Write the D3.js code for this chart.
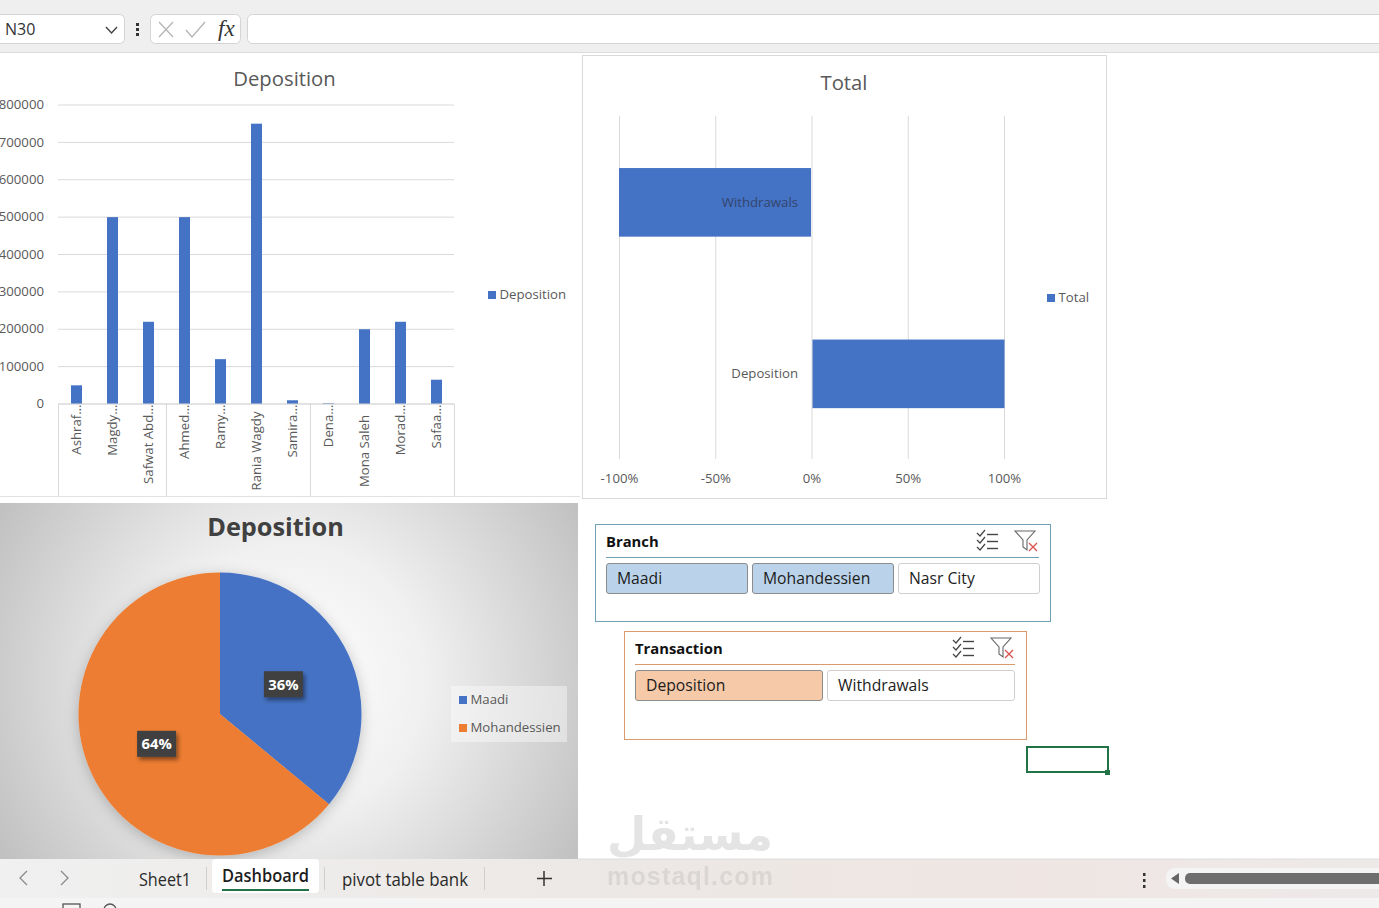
<!DOCTYPE html>
<html>
<head>
<meta charset="utf-8">
<script src="https://cdn.jsdelivr.net/npm/d3@7"></script>
<style>
html,body{margin:0;padding:0;background:#fff;overflow:hidden}
svg{display:block}
text{font-family:"Open Sans",sans-serif}
</style>
</head>
<body>
<svg id="sheet" width="1379" height="908"></svg>
<script>
// Dashboard data
const clerks = ["Ashraf…","Magdy…","Safwat Abd…","Ahmed…","Ramy…","Rania Wagdy","Samira…","Dena…","Mona Saleh","Morad…","Safaa…"];
const clerkDeposits = [50000,500000,220000,500000,120000,750000,10000,2000,200000,220000,65000];
const clerkGroupSizes = [3,4,4];
const depositTicks = [0,100000,200000,300000,400000,500000,600000,700000,800000];
const transactionTypes = ["Withdrawals","Deposition"];
const transactionShares = [-1,1];
const shareTicks = [-1,-0.5,0,0.5,1];
const branches = ["Maadi","Mohandessien"];
const branchShares = [36,64];
const branchColors = ["#4472c4","#ed7d31"];
const branchSlicer = ["Maadi","Mohandessien","Nasr City"];
const branchSelected = [true,true,false];
const transactionSlicer = ["Deposition","Withdrawals"];
const transactionSelected = [true,false];
const sheetTabs = ["Sheet1","Dashboard","pivot table bank"];

const BLUE = "#4472c4", GRID = "#d9d9d9", INK = "#595959", LABEL_SIZE = 13.2;
const svg = d3.select("#sheet");
const defs = svg.append("defs");

// ---- window chrome: formula bar ----
const chrome = svg.append("g");
chrome.append("rect").attr("width",1379).attr("height",52).attr("fill","#f0eff0");
chrome.append("line").attr("x1",0).attr("x2",1379).attr("y1",52.5).attr("y2",52.5).attr("stroke","#dcdcdc");
function roundBox(g,x,y,w,h,r,fill,stroke){
  return g.append("rect").attr("x",x+.5).attr("y",y+.5).attr("width",w).attr("height",h).attr("rx",r)
    .attr("fill",fill).attr("stroke",stroke);
}
roundBox(chrome,-6,14,130,29,5,"#fff","#d4d4d4");
roundBox(chrome,150,14,90,29,5,"#fff","#d4d4d4");
roundBox(chrome,247,14,1140,29,5,"#fff","#d4d4d4");
chrome.append("text").attr("x",5).attr("y",35).attr("font-size",16).attr("fill","#333").text("N30");
chrome.append("path").attr("d","M106 27l5.500 6l5.500-6").attr("fill","none").attr("stroke","#444").attr("stroke-width",1.4);
[24,29,34].forEach(y=>chrome.append("rect").attr("x",136).attr("y",y-1).attr("width",3).attr("height",3).attr("fill","#333"));
chrome.append("path").attr("d","M159 22l14 15M173 22l-14 15").attr("stroke","#b5b5b5").attr("stroke-width",1.3);
chrome.append("path").attr("d","M186 30l6 7l13-15").attr("fill","none").attr("stroke","#b5b5b5").attr("stroke-width",1.3);
chrome.append("text").attr("x",218).attr("y",36).attr("font-size",23).attr("font-style","italic")
  .style("font-family","'Liberation Serif',serif").attr("fill","#333").text("fx");

// ---- Deposition column chart ----
const bars = svg.append("g");
const barX = d3.scaleBand().domain(clerks).range([58,454]);
const barY = d3.scaleLinear().domain([0,800000]).range([403.5,104.5]);
bars.append("text").attr("x",284.500).attr("y",86).attr("text-anchor","middle").attr("font-size",20.3).attr("fill",INK).text("Deposition");

const barAxisY = bars.append("g").attr("transform","translate(58,0)")
  .call(d3.axisLeft(barY).tickValues(depositTicks).tickFormat(d3.format("d")).tickSize(-396).tickPadding(14));
barAxisY.select(".domain").remove();
barAxisY.selectAll("line").attr("stroke",GRID);
barAxisY.selectAll("text").attr("font-size",LABEL_SIZE).attr("fill",INK).style("font-family","'Open Sans',sans-serif");

bars.selectAll("rect.bar").data(clerks).join("rect").attr("class","bar")
  .attr("x",d=>barX(d)+barX.bandwidth()/2-5.5+.5).attr("width",11)
  .attr("y",(d,i)=>barY(clerkDeposits[i])+.5).attr("height",(d,i)=>barY(0)-barY(clerkDeposits[i]))
  .attr("fill",BLUE);

// category axis with grouped outer levels
const barAxisX = bars.append("g").attr("transform","translate(0,403.5)")
  .call(d3.axisBottom(barX).tickSize(0).tickPadding(0));
barAxisX.select(".domain").attr("stroke",GRID);
barAxisX.selectAll("text")
  .attr("font-size",LABEL_SIZE).attr("fill",INK).style("font-family","'Open Sans',sans-serif")
  .attr("dy",null)
  .attr("text-anchor",d=>d.endsWith("…")?"end":"middle")
  .attr("transform",d=>`translate(5,${d.endsWith("…")?1:47.5}) rotate(-90)`)
  .attr("y",0).attr("x",0);
let groupStart = 0;
const groupEdges = [0];
clerkGroupSizes.forEach(n=>{groupStart+=n;groupEdges.push(groupStart);});
bars.selectAll("line.level").data(groupEdges).join("line").attr("class","level")
  .attr("x1",d=>Math.round(58+d*barX.step())+.5).attr("x2",d=>Math.round(58+d*barX.step())+.5)
  .attr("y1",404).attr("y2",496).attr("stroke",GRID);
bars.append("line").attr("x1",0).attr("x2",580).attr("y1",496.5).attr("y2",496.5).attr("stroke","#e2e2e2");

bars.append("rect").attr("x",488).attr("y",291).attr("width",8).attr("height",8).attr("fill",BLUE);
bars.append("text").attr("x",499.500).attr("y",299).attr("font-size",LABEL_SIZE).attr("fill",INK).text("Deposition");

// ---- Total diverging bar chart ----
const total = svg.append("g");
total.append("rect").attr("x",582.5).attr("y",55.5).attr("width",524).attr("height",443).attr("fill","#fff").attr("stroke","#d9d9d9");
total.append("text").attr("x",844).attr("y",90).attr("text-anchor","middle").attr("font-size",20.3).attr("fill",INK).text("Total");
const shareX = d3.scaleLinear().domain([-1,1]).range([619,1004]);
const shareY = d3.scaleBand().domain(transactionTypes).range([116.6,459.6]).paddingInner(.6).paddingOuter(.3);
const signedPercent = d => d3.format(".0%")(d).replace("−","-");
const shareAxis = total.append("g").attr("transform","translate(0,459)")
  .call(d3.axisBottom(shareX).tickValues(shareTicks).tickFormat(signedPercent).tickSize(-343).tickPadding(15));
shareAxis.select(".domain").remove();
shareAxis.selectAll("line").attr("stroke",GRID);
shareAxis.selectAll("text").attr("font-size",LABEL_SIZE).attr("fill",INK).style("font-family","'Open Sans',sans-serif");
total.selectAll("rect.share").data(transactionTypes).join("rect").attr("class","share")
  .attr("x",(d,i)=>Math.min(shareX(0)+1,shareX(transactionShares[i])))
  .attr("width",(d,i)=>Math.abs(shareX(transactionShares[i])-shareX(0))-.5)
  .attr("y",d=>shareY(d)).attr("height",shareY.bandwidth()).attr("fill",BLUE);
total.selectAll("text.cat").data(transactionTypes).join("text").attr("class","cat")
  .attr("x",798).attr("y",d=>shareY(d)+shareY.bandwidth()/2+4.2).attr("text-anchor","end")
  .attr("font-size",LABEL_SIZE).attr("fill",(d,i)=>transactionShares[i]<0?"#33456e":INK).text(d=>d);
total.append("rect").attr("x",1047).attr("y",294).attr("width",8).attr("height",8).attr("fill",BLUE);
total.append("text").attr("x",1058.500).attr("y",302).attr("font-size",LABEL_SIZE).attr("fill",INK).text("Total");

// ---- Deposition pie ----
const pieGroup = svg.append("g");
const halo = defs.append("radialGradient").attr("id","panelFill")
  .attr("gradientUnits","userSpaceOnUse").attr("cx",290).attr("cy",680).attr("r",390);
halo.append("stop").attr("offset",0).attr("stop-color","#ffffff");
halo.append("stop").attr("offset",.35).attr("stop-color","#f0f0f0");
halo.append("stop").attr("offset",1).attr("stop-color","#b4b4b4");
const pieShadow = defs.append("filter").attr("id","pieShadow").attr("x","-20%").attr("y","-20%").attr("width","140%").attr("height","140%");
pieShadow.append("feDropShadow").attr("dx",0).attr("dy",3).attr("stdDeviation",7).attr("flood-color","#000").attr("flood-opacity",.22);
const tagShadow = defs.append("filter").attr("id","tagShadow").attr("x","-30%").attr("y","-30%").attr("width","170%").attr("height","170%");
tagShadow.append("feDropShadow").attr("dx",2).attr("dy",3).attr("stdDeviation",2).attr("flood-color","#000").attr("flood-opacity",.45);
pieGroup.append("rect").attr("x",0).attr("y",503).attr("width",578).attr("height",356).attr("fill","url(#panelFill)");
pieGroup.append("text").attr("x",275.500).attr("y",536).attr("text-anchor","middle").attr("font-size",25.3).attr("font-weight",700).attr("fill","#404040").text("Deposition");

const pieCenter = [220,714], pieRadius = 141.5;
const arcs = d3.pie().sort(null)(branchShares);
const arcPath = d3.arc().innerRadius(0).outerRadius(pieRadius);
const pieG = pieGroup.append("g").attr("transform",`translate(${pieCenter})`).attr("filter","url(#pieShadow)");
pieG.selectAll("path").data(arcs).join("path").attr("d",arcPath).attr("fill",(d,i)=>branchColors[i]);
const labelRadius = d3.arc().innerRadius(pieRadius*.495).outerRadius(pieRadius*.495);
const tags = pieGroup.append("g").attr("transform",`translate(${pieCenter})`);
arcs.forEach((a,i)=>{
  const [cx,cy] = labelRadius.centroid(a);
  const t = tags.append("g").attr("transform",`translate(${cx},${cy})`);
  t.append("rect").attr("x",-19.5).attr("y",-13).attr("width",39).attr("height",26).attr("fill","#404040").attr("filter","url(#tagShadow)");
  t.append("text").attr("text-anchor","middle").attr("y",5.5).attr("font-size",14.8).attr("font-weight",700).attr("fill","#fff").text(branchShares[i]+"%");
});
pieGroup.append("rect").attr("x",451).attr("y",686).attr("width",116).attr("height",56).attr("fill","#fff").attr("opacity",.4);
branches.forEach((b,i)=>{
  pieGroup.append("rect").attr("x",459).attr("y",696+i*28).attr("width",8).attr("height",8).attr("fill",branchColors[i]);
  pieGroup.append("text").attr("x",470.500).attr("y",704+i*28).attr("font-size",LABEL_SIZE).attr("fill",INK).text(b);
});

// ---- slicers ----
function slicer(x,y,w,h,title,items,picked,edge,rule,onFill,btnY,btnH,btnW){
  const g = svg.append("g");
  g.append("rect").attr("x",x+.5).attr("y",y+.5).attr("width",w).attr("height",h).attr("fill","#fff").attr("stroke",edge);
  g.append("text").attr("x",x+11).attr("y",y+23).attr("font-size",14.8).attr("font-weight",700).attr("fill","#111").text(title);
  g.append("line").attr("x1",x+11).attr("x2",x+w-11).attr("y1",y+33.5).attr("y2",y+33.5).attr("stroke",rule);
  items.forEach((d,i)=>{
    const bx = x+11+i*(btnW+4);
    g.append("rect").attr("x",bx+.5).attr("y",btnY+.5).attr("width",btnW-1).attr("height",btnH).attr("rx",2.5)
      .attr("fill",picked[i]?onFill:"#fff").attr("stroke",picked[i]?"#8c8c8c":"#cfcfcf");
    g.append("text").attr("x",bx+11).attr("y",btnY+21).attr("font-size",15.7).attr("fill","#1c1c1c").text(d);
  });
  // multi-select and clear-filter buttons
  const ix = x+w-73, iy = y+6;
  [0,7,14].forEach(dy=>{
    g.append("path").attr("d",`M${ix} ${iy+3+dy}l3 3l5-6`).attr("fill","none").attr("stroke","#444").attr("stroke-width",1.2);
    g.append("line").attr("x1",ix+10).attr("x2",ix+21).attr("y1",iy+4.5+dy).attr("y2",iy+4.5+dy).attr("stroke","#444").attr("stroke-width",1.4);
  });
  const fx = x+w-35, fy = y+7;
  g.append("path").attr("d",`M${fx} ${fy}h20l-8 9v10l-4-3v-7z`).attr("fill","none").attr("stroke","#666").attr("stroke-width",1.1);
  g.append("path").attr("d",`M${fx+14} ${fy+12}l8 8M${fx+22} ${fy+12}l-8 8`).attr("stroke","#d9534f").attr("stroke-width",1.3);
}
slicer(595,524,455,97,"Branch",branchSlicer,branchSelected,"#6fa0b8","#6fa0b8","#bad3ea",563,30,142);
slicer(624,631,402,108,"Transaction",transactionSlicer,transactionSelected,"#d99a6c","#d99a6c","#f6c9a9",670,30,188);

// active cell
svg.append("rect").attr("x",1027).attr("y",747).attr("width",81).attr("height",25).attr("fill","none").attr("stroke","#217346").attr("stroke-width",2);
svg.append("rect").attr("x",1105).attr("y",770).attr("width",5).attr("height",5).attr("fill","#217346");

// ---- sheet tab strip ----
const tabFill = defs.append("linearGradient").attr("id","tabFill");
tabFill.append("stop").attr("offset",0).attr("stop-color","#f0f0f0");
tabFill.append("stop").attr("offset",.45).attr("stop-color","#ece8e5");
tabFill.append("stop").attr("offset",.75).attr("stop-color","#efe6e3");
tabFill.append("stop").attr("offset",1).attr("stop-color","#ede9e9");
const strip = svg.append("g");
strip.append("rect").attr("y",859).attr("width",1379).attr("height",39).attr("fill","url(#tabFill)");
strip.append("rect").attr("y",898).attr("width",1379).attr("height",10).attr("fill","#f4f4f4");
strip.append("line").attr("x1",578).attr("x2",1379).attr("y1",859).attr("y2",859).attr("stroke","#dddddd");
strip.append("path").attr("d","M27 871l-7 7l7 7M61 871l7 7l-7 7").attr("fill","none").attr("stroke","#8a8a8a").attr("stroke-width",1.3);
strip.append("rect").attr("x",212).attr("y",859).attr("width",107).attr("height",34).attr("rx",4).attr("fill","#fff");
const tabAt = [[139,52,886,400],[222,87,882,600],[342,126,886,400]];
sheetTabs.forEach((t,i)=>{
  strip.append("text").attr("x",tabAt[i][0]).attr("y",tabAt[i][2]).attr("font-size",18)
    .attr("font-weight",tabAt[i][3]).attr("fill",i===1?"#1d1d1d":"#2a2a2a")
    .attr("textLength",tabAt[i][1]).attr("lengthAdjust","spacingAndGlyphs").text(t);
});
strip.append("rect").attr("x",222).attr("y",889).attr("width",87).attr("height",2).attr("fill","#217346");
[206.5,324.5,484.5].forEach(x=>strip.append("line").attr("x1",x).attr("x2",x).attr("y1",867).attr("y2",890).attr("stroke","#cfcfcf"));
strip.append("path").attr("d","M544 871v15M537 878.500h15").attr("stroke","#333").attr("stroke-width",1.5);
[874,880,886].forEach(y=>strip.append("rect").attr("x",1143).attr("y",y-1).attr("width",2.500).attr("height",3).attr("fill","#333"));
strip.append("rect").attr("x",1166).attr("y",868).attr("width",240).attr("height",21).attr("rx",9).attr("fill","#f4f4f4");
strip.append("path").attr("d","M1179 873v11l-8-5.500z").attr("fill","#666");
strip.append("rect").attr("x",1185).attr("y",873).attr("width",240).attr("height",11).attr("rx",5).attr("fill","#6e6e6e");
strip.append("rect").attr("x",63).attr("y",904).attr("width",17).attr("height",10).attr("fill","none").attr("stroke","#555").attr("stroke-width",1.300);
strip.append("circle").attr("cx",110).attr("cy",910).attr("r",6).attr("fill","none").attr("stroke","#555").attr("stroke-width",1.300);

// ---- publisher mark ----
const mark = svg.append("g").attr("fill","#bdbdbd").attr("opacity",.4);
mark.append("text").attr("x",690).attr("y",850).attr("text-anchor","middle").attr("font-size",46).attr("font-weight",700)
  .attr("direction","rtl").style("font-family","'DejaVu Sans',sans-serif")
  .attr("textLength",166).attr("lengthAdjust","spacingAndGlyphs").text("مستقل");
mark.append("text").attr("x",607).attr("y",885).attr("font-size",25).attr("font-weight",700)
  .style("font-family","'Liberation Sans',sans-serif").attr("textLength",166).text("mostaql.com");
</script>
</body>
</html>
